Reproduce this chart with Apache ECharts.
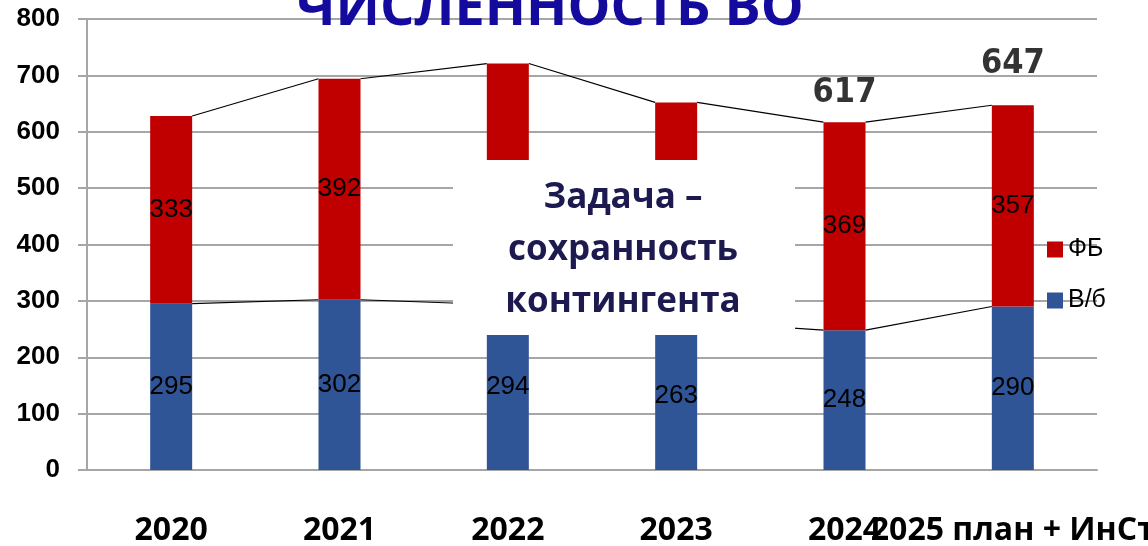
<!DOCTYPE html>
<html>
<head>
<meta charset="utf-8">
<script src="https://cdn.jsdelivr.net/npm/echarts@6/dist/echarts.min.js"></script>
<style>
html, body { margin: 0; padding: 0; background: #fff; }
#main { width: 1148px; height: 546px; }
</style>
</head>
<body>
<div id="main"></div>
<script>
// data
var categories = ['2020', '2021', '2022', '2023', '2024', '2025 план + ИнСт'];
var vbValues = [295, 302, 294, 263, 248, 290];   // В/б
var fbValues = [333, 392, 427, 389, 369, 357];   // ФБ
var totalShown = [false, false, false, false, true, true];
var yMin = 0, yMax = 800, yStep = 100;
var titleText = 'ЧИСЛЕННОСТЬ ВО';
var noteLines = ['Задача –', 'сохранность', 'контингента'];

var totals = vbValues.map(function (v, i) { return v + fbValues[i]; });
var BAR_W = 42;

var myChart = echarts.init(document.getElementById('main'));

// connector lines from bar edge to next bar edge
function pairs(arr) {
    var out = [];
    for (var i = 0; i < arr.length - 1; i++) out.push([i, arr[i], arr[i + 1]]);
    return out;
}
function connector(params, api) {
    var i = api.value(0);
    var p0 = api.coord([i, api.value(1)]);
    var p1 = api.coord([i + 1, api.value(2)]);
    return {
        type: 'line',
        shape: { x1: p0[0] + BAR_W / 2, y1: p0[1], x2: p1[0] - BAR_W / 2, y2: p1[1] },
        style: { stroke: '#000', lineWidth: 1.2 }
    };
}

var segLabel = {
    show: true,
    position: 'inside',
    color: '#000',
    fontFamily: 'Liberation Sans',
    fontSize: 26
};

var option = {
    animation: false,
    grid: { left: 87, right: 51, top: 19, bottom: 76, outerBoundsMode: 'none', containLabel: false },
    legend: {
        data: ['ФБ', 'В/б'],
        orient: 'vertical',
        left: 1042,
        top: 232,
        itemWidth: 16,
        itemHeight: 16,
        itemGap: 26,
        icon: 'rect',
        textStyle: { fontFamily: 'Liberation Sans', fontSize: 25, color: '#000' }
    },
    xAxis: {
        type: 'category',
        data: categories,
        axisLine: { lineStyle: { color: '#a6a6a6', width: 2 } },
        axisTick: { show: false },
        axisLabel: {
            interval: 0,
            margin: 45,
            color: '#000',
            fontFamily: 'Open Sans',
            fontWeight: 'bold',
            fontSize: 32
        }
    },
    yAxis: {
        type: 'value',
        min: yMin,
        max: yMax,
        interval: yStep,
        axisLine: { show: true, lineStyle: { color: '#a6a6a6', width: 2 } },
        axisTick: { show: true, length: 9, lineStyle: { color: '#a6a6a6', width: 2 } },
        splitLine: { lineStyle: { color: '#a6a6a6', width: 2 } },
        axisLabel: {
            margin: 27,
            color: '#000',
            fontFamily: 'Liberation Sans',
            fontWeight: 'bold',
            fontSize: 26
        }
    },
    graphic: [
        {
            type: 'text',
            z: 100,
            style: {
                x: 550, y: 10,
                text: titleText,
                textAlign: 'center',
                textVerticalAlign: 'middle',
                fill: '#140a9e',
                font: 'bold 54px "Open Sans"'
            }
        },
        {
            type: 'rect',
            z: 100,
            shape: { x: 453, y: 160, width: 342, height: 175 },
            style: { fill: '#fff' }
        },
        {
            type: 'text',
            z: 101,
            style: {
                x: 623, y: 250,
                text: noteLines.join('\n'),
                textAlign: 'center',
                textVerticalAlign: 'middle',
                lineHeight: 52,
                fill: '#1c1a4f',
                font: 'bold 35px "Open Sans"'
            }
        }
    ],
    series: [
        {
            name: 'В/б',
            type: 'bar',
            stack: 'all',
            barWidth: BAR_W,
            data: vbValues,
            itemStyle: { color: '#2f5597' },
            label: segLabel
        },
        {
            name: 'ФБ',
            type: 'bar',
            stack: 'all',
            barWidth: BAR_W,
            data: fbValues,
            itemStyle: { color: '#c00000' },
            label: segLabel
        },
        {
            name: 'lines-vb',
            type: 'custom',
            renderItem: connector,
            data: pairs(vbValues),
            encode: { x: 0, y: 1 },
            silent: true
        },
        {
            name: 'lines-total',
            type: 'custom',
            renderItem: connector,
            data: pairs(totals),
            encode: { x: 0, y: 1 },
            silent: true
        },
        {
            name: 'totals',
            type: 'scatter',
            symbolSize: 0,
            silent: true,
            data: totals.map(function (v, i) {
                return {
                    value: v,
                    label: {
                        show: totalShown[i],
                        position: 'top',
                        distance: i === 5 ? 24 : 12,
                        color: '#000',
                        fontFamily: '"DejaVu Sans Condensed", "Liberation Sans Narrow", sans-serif',
                        fontWeight: 'bold',
                        fontSize: 34,
                        formatter: '{c}'
                    }
                };
            })
        }
    ]
};

myChart.setOption(option);
</script>
</body>
</html>
